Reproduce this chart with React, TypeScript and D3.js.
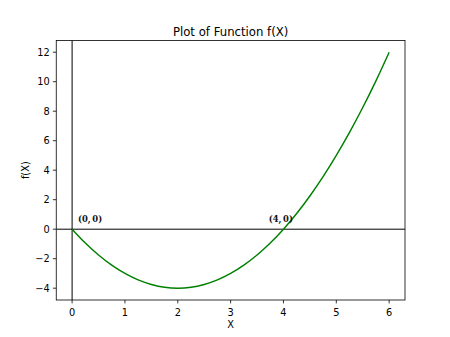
import React from "react";
import * as d3 from "d3";

const xValues = [0, 0.25, 0.5, 0.75, 1, 1.25, 1.5, 1.75, 2, 2.25, 2.5, 2.75, 3, 3.25, 3.5, 3.75, 4, 4.25, 4.5, 4.75, 5, 5.25, 5.5, 5.75, 6];
const yValues = [0, -0.94, -1.75, -2.44, -3, -3.44, -3.75, -3.94, -4, -3.94, -3.75, -3.44, -3, -2.44, -1.75, -0.94, 0, 1.06, 2.25, 3.56, 5, 6.56, 8.25, 10.06, 12];
const xTicks = [0, 1, 2, 3, 4, 5, 6];
const yTicks = [-4, -2, 0, 2, 4, 6, 8, 10, 12];
const annPoints = [[0, 0], [4, 0]];
const annOffsets = [[0.11, 0.5], [3.72, 0.5]];

const W = 450, H = 337;
const L = 56.25, R = 405, T = 40.4, B = 300;

export default function App() {
  const x = d3.scaleLinear().domain([-0.3, 6.3]).range([L, R]);
  const y = d3.scaleLinear().domain([-4.8, 12.8]).range([B, T]);
  const pts = xValues.map((v, i) => [v, yValues[i]] as [number, number]);
  const line = d3.line<[number, number]>().x(d => x(d[0])).y(d => y(d[1])).curve(d3.curveCatmullRom);
  const font = "'DejaVu Sans', sans-serif";
  return (
    <svg width={W} height={H} style={{ position: "absolute", left: 0, top: 0, background: "#fff" }}>
      <defs>
        <clipPath id="clip"><rect x={L} y={T} width={R - L} height={B - T} /></clipPath>
      </defs>
      <g clipPath="url(#clip)">
        <line x1={x(0)} x2={x(0)} y1={T} y2={B} stroke="#000" strokeWidth={1} />
        <line x1={L} x2={R} y1={y(0)} y2={y(0)} stroke="#000" strokeWidth={1} />
        <path d={line(pts) || ""} fill="none" stroke="#008000" strokeWidth={1.46} />
      </g>
      {annPoints.map((p, i) => (
        <text key={i} x={x(annOffsets[i][0])} y={y(annOffsets[i][1])} fontFamily="'DejaVu Serif', serif" fontWeight="bold" fontSize={8.4} fill="#111">
          ({p[0]},{"\u2009"}{p[1]})
        </text>
      ))}
      <rect x={L} y={T} width={R - L} height={B - T} fill="none" stroke="#000" strokeWidth={0.8} />
      {xTicks.map(t => (
        <g key={t}>
          <line x1={x(t)} x2={x(t)} y1={B} y2={B + 3.4} stroke="#000" strokeWidth={0.8} />
          <text x={x(t)} y={B + 15.5} textAnchor="middle" fontFamily={font} fontSize={9.8}>{t}</text>
        </g>
      ))}
      {yTicks.map(t => (
        <g key={t}>
          <line x1={L - 3.4} x2={L} y1={y(t)} y2={y(t)} stroke="#000" strokeWidth={0.8} />
          <text x={L - 6.5} y={y(t)} dy="0.35em" textAnchor="end" fontFamily={font} fontSize={9.8}>{t < 0 ? "\u2212" + Math.abs(t) : t}</text>
        </g>
      ))}
      <text x={(L + R) / 2} y={328} textAnchor="middle" fontFamily={font} fontSize={9.8}>X</text>
      <text transform={`translate(28.5, ${(T + B) / 2}) rotate(-90)`} textAnchor="middle" fontFamily={font} fontSize={9.8}>f(X)</text>
      <text x={(L + R) / 2} y={36} textAnchor="middle" fontFamily={font} fontSize={11.7}>Plot of Function f(X)</text>
    </svg>
  );
}
